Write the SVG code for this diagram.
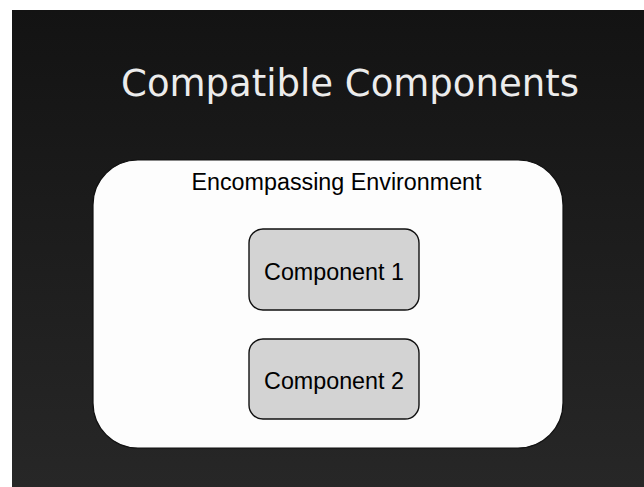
<svg xmlns="http://www.w3.org/2000/svg" width="644" height="487" viewBox="0 0 644 487">
  <defs>
    <linearGradient id="slideBg" x1="0" y1="0" x2="0" y2="1">
      <stop offset="0" stop-color="#131313"/>
      <stop offset="1" stop-color="#272727"/>
    </linearGradient>
    <style>
      .title { font-family: "DejaVu Sans", sans-serif; font-size: 37px; fill: #ececec; }
      .label { font-family: "Liberation Sans", Arial, sans-serif; font-size: 23.3px; fill: #000; }
      .env { fill: #fdfdfd; stroke: #111; stroke-width: 1.2; }
      .comp { fill: #d3d3d3; stroke: #111; stroke-width: 1.4; }
    </style>
  </defs>

  <!-- page and slide background -->
  <rect x="0" y="0" width="644" height="487" fill="#ffffff"/>
  <rect x="12" y="10" width="632" height="477" fill="url(#slideBg)"/>

  <text class="title" x="350" y="96" text-anchor="middle">Compatible Components</text>

  <g id="environment">
    <rect class="env" x="93" y="160" width="470" height="288" rx="45" ry="45"/>
    <text class="label" x="336.5" y="189.5" text-anchor="middle">Encompassing Environment</text>
  </g>

  <g id="component1">
    <rect class="comp" x="249" y="229" width="170" height="81" rx="14" ry="14"/>
    <text class="label" x="334" y="280" text-anchor="middle">Component 1</text>
  </g>

  <g id="component2">
    <rect class="comp" x="249" y="339" width="170" height="80" rx="14" ry="14"/>
    <text class="label" x="334" y="389" text-anchor="middle">Component 2</text>
  </g>

  <g id="connectors"></g>
</svg>
